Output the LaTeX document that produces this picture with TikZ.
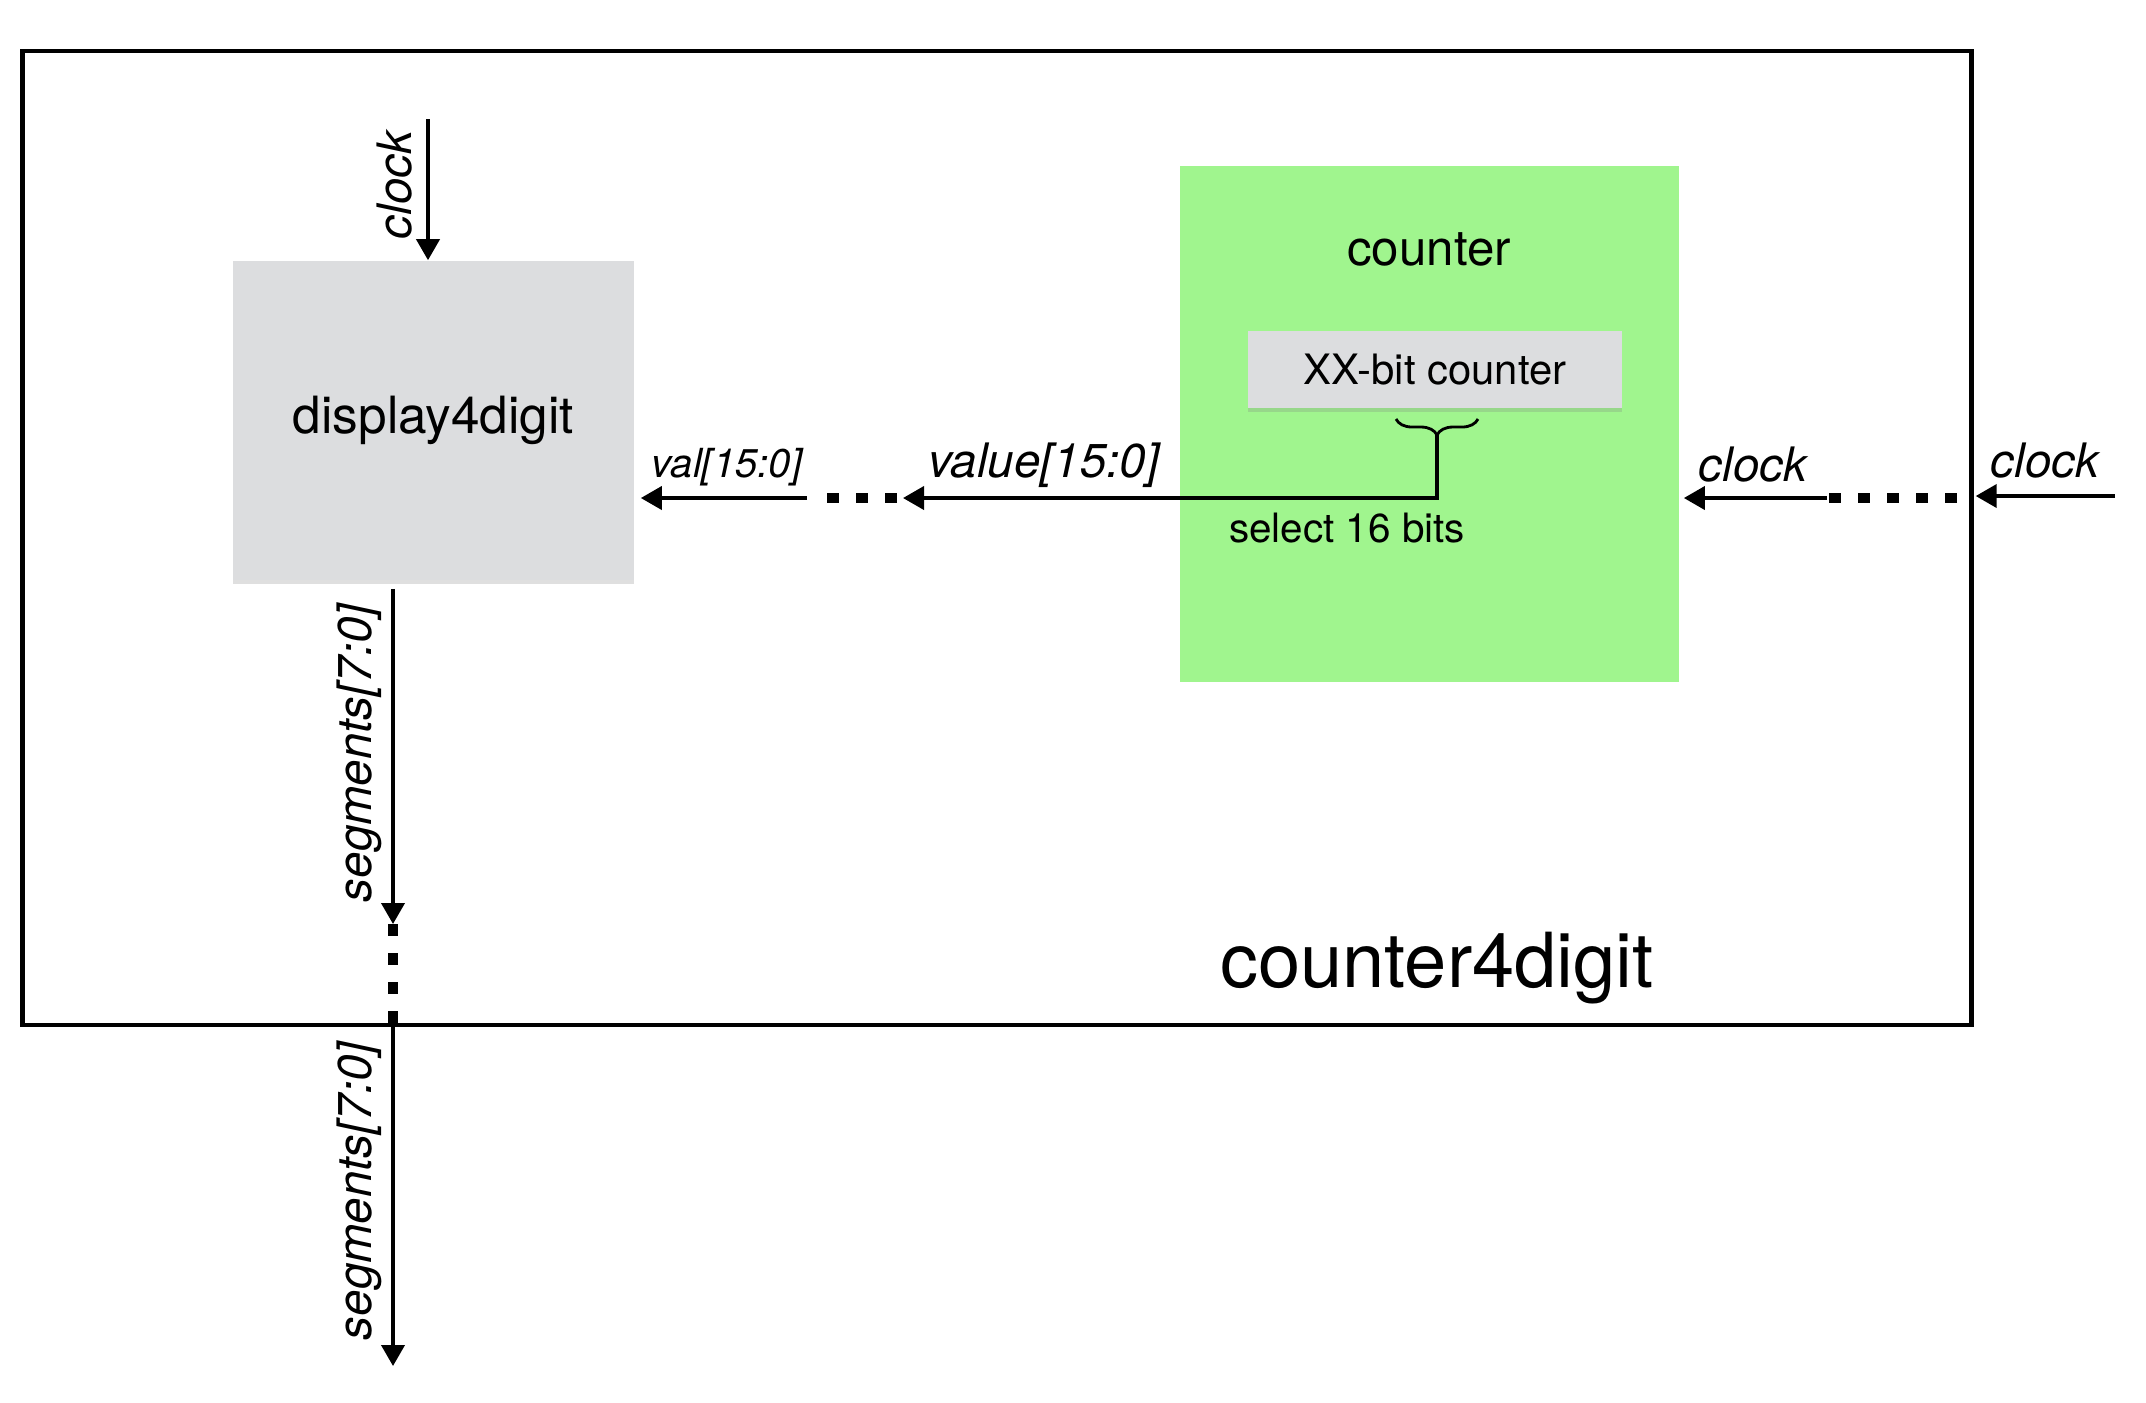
\documentclass[tikz,border=0pt]{standalone}
\usepackage{fontspec}
\setmainfont{TeX Gyre Heros}
\usetikzlibrary{arrows.meta,decorations.pathreplacing,shadows}
\definecolor{blockgray}{RGB}{220,221,223}
\definecolor{cntgreen}{RGB}{160,245,142}
\tikzset{
	sig/.style={line width=1.1pt, -{Triangle[length=0.21cm,width=0.23cm]}},
	wire/.style={line width=1.1pt},
	dotwire/.style={line width=2.7pt, dash pattern=on 0.12cm off 0.17cm},
	lab/.style={font=\itshape\fontsize{13.5}{16}\selectfont, inner sep=0pt},
	grayblock/.style={fill=blockgray, inner sep=0pt, drop shadow={shadow xshift=0pt, shadow yshift=-0.04cm, opacity=0.25}},
}

\begin{document}
\begin{tikzpicture}[x=0.01cm, y=-0.01cm]
		\useasboundingbox (0,0) rectangle (2146,1402);

		\node[draw, line width=1.2pt, minimum width=19.48cm, minimum height=9.74cm, inner sep=0pt] (top) at (997,538) {};
		\node[font=\fontsize{21.6}{25}\selectfont] (toplab) at (1437,968) {counter4digit};

		\node[grayblock, minimum width=4.01cm, minimum height=3.19cm, font=\fontsize{14.6}{17}\selectfont] (disp) at (433.5,420.5) {display4digit};

		\node[fill=cntgreen, inner sep=0pt, minimum width=4.99cm, minimum height=5.16cm] (cnt) at (1429.5,424) {};
		\node[font=\fontsize{14}{17}\selectfont] (cntlab) at (1429,249) {counter};
		\node[grayblock, minimum width=3.74cm, minimum height=0.77cm, font=\fontsize{11.9}{14}\selectfont] (xx) at (1435,369.5) {XX-bit counter};
		\node[font=\fontsize{11.5}{14}\selectfont] (sel) at (1347,528) {select 16 bits};

		\draw[line width=0.8pt, decorate, decoration={brace, mirror, amplitude=0.16cm}] (1396,419) -- (1478,419);
		\coordinate (bracetip) at (1437,435);

		\coordinate (clkin) at (428,119);
		\coordinate (valgap) at (807,498);
		\coordinate (valtip) at (903,498);
		\coordinate (clkout) at (2115,496);
		\coordinate (clkgap) at (1827,498);
		\coordinate (segmid) at (393,924);
		\coordinate (segout) at (393,1366);

		\draw[sig] (clkin) -- (clkin |- disp.north);
		\node[lab, rotate=90] (clkinlab) at (395,185) {clock};

		\draw[wire] (bracetip) |- (cnt.west |- valtip);
		\draw[sig] (cnt.west |- valtip) -- (valtip);
		\draw[dotwire] ([xshift=-0.06cm]valtip) -- ([xshift=0.12cm]valgap);
		\draw[sig, shorten >=0.06cm] (valgap) -- (valgap -| disp.east);
		\node[lab, font=\itshape\fontsize{11.4}{14}\selectfont] (vallab) at (727,467) {val[15:0]};
		\node[lab] (valuelab) at (1044,465) {value[15:0]};

		\draw[sig, shorten >=0.02cm] (clkout) -- (top.east |- clkout);
		\draw[dotwire] (1957,498) -- (clkgap);
		\draw[sig, shorten >=0.04cm] (clkgap) -- (cnt.east |- clkgap);
		\node[lab] (clklab) at (1753,465) {clock};
		\node[lab] (clkoutlab) at (2045,461) {clock};

		\draw[sig] ([yshift=-0.08cm]disp.south -| segmid) -- (segmid);
		\draw[dotwire] (segmid) -- (segmid |- top.south);
		\draw[sig] (segmid |- top.south) -- (segout);
		\node[lab, rotate=90] (seglab) at (359,753) {segments[7:0]};
		\node[lab, rotate=90] (segoutlab) at (359,1191) {segments[7:0]};
\end{tikzpicture}
\end{document}
